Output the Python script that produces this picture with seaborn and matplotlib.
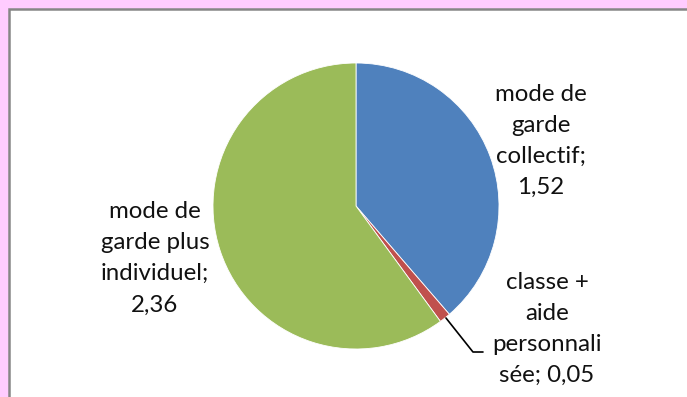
import matplotlib
matplotlib.use("Agg")
import matplotlib.pyplot as plt
from matplotlib.patches import Rectangle
import seaborn as sns

# Données : répartition par mode de garde
categories = ["mode de\ngarde\ncollectif",
              "classe +\naide\npersonnali\nsée",
              "mode de\ngarde plus\nindividuel"]
values = [1.52, 0.05, 2.36]
colors = ["#4F81BD", "#C0504D", "#9BBB59"]

sns.set_style("white")
plt.rcParams["font.family"] = ["Lato", "DejaVu Sans"]

W, H = 687, 397
fig = plt.figure(figsize=(W / 100, H / 100), dpi=100, facecolor="#FFCCFF")

# white chart panel with grey frame
fig.patches.append(Rectangle((9 / W, -0.1), 1.2, (H - 9.5) / H + 0.1,
                             transform=fig.transFigure, facecolor="white",
                             edgecolor="#868686", linewidth=1.8, zorder=-10))

cx, cy, r = 356, 206, 143
ax = fig.add_axes([(cx - r) / W, (H - cy - r) / H, 2 * r / W, 2 * r / H])
ax.pie(values, colors=colors, startangle=90, counterclock=False, radius=1,
       wedgeprops=dict(linewidth=0.6, edgecolor="white"))
ax.set_xlim(-1, 1)
ax.set_ylim(-1, 1)
ax.set_aspect("equal")
ax.axis("off")

def fmt(v):
    return f"{v:.2f}".replace(".", ",")

label_pos = [(1.294, 0.455), (1.336, -0.860), (-1.406, -0.364)]
for name, v, (x, y) in zip(categories, values, label_pos):
    sep = " " if name.endswith("sée") else "\n"
    ax.text(x, y, f"{name};{sep}{fmt(v)}",
            ha="center", va="center", fontsize=17.3, color="#111111",
            linespacing=1.6, clip_on=False)

# leader line for the small slice
ax.plot([0.629, 0.818, 0.888], [-0.783, -1.021, -1.021], color="black",
        linewidth=1.2, clip_on=False)

fig.savefig("out.png", dpi=100, facecolor=fig.get_facecolor())
